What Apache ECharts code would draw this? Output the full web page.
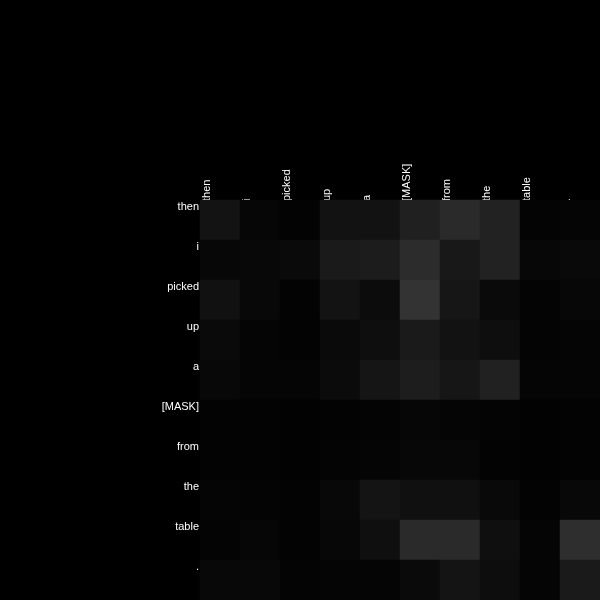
<!DOCTYPE html>
<html>
<head>
<meta charset="utf-8">
<script src="https://cdn.jsdelivr.net/npm/echarts@6/dist/echarts.min.js"></script>
<style>html,body{margin:0;padding:0;background:#000;}#c{width:600px;height:600px;}</style>
</head>
<body>
<div id="c"></div>
<script>
var tokens = ['then', 'i', 'picked', 'up', 'a', '[MASK]', 'from', 'the', 'table', '.'];
// gray intensity (0-255) per row (query token) across columns (key token)
var rowThen   = [19, 6, 3, 18, 18, 32, 42, 34, 4, 5];
var rowI      = [7, 8, 10, 26, 28, 44, 24, 34, 7, 9];
var rowPicked = [17, 8, 3, 19, 12, 51, 22, 10, 4, 7];
var rowUp     = [10, 5, 3, 10, 14, 26, 18, 14, 4, 5];
var rowA      = [8, 5, 5, 11, 21, 29, 22, 33, 5, 5];
var rowMask   = [3, 3, 2, 3, 4, 6, 5, 4, 2, 3];
var rowFrom   = [3, 3, 2, 4, 5, 7, 7, 3, 2, 3];
var rowThe    = [5, 4, 3, 8, 20, 16, 16, 9, 3, 8];
var rowTable  = [4, 6, 3, 7, 15, 42, 42, 15, 5, 46];
var rowDot    = [8, 8, 4, 5, 5, 10, 20, 13, 5, 26];
var rows = [rowThen, rowI, rowPicked, rowUp, rowA, rowMask, rowFrom, rowThe, rowTable, rowDot];

var data = [];
rows.forEach(function (r, yi) {
  r.forEach(function (v, xi) { data.push([xi, yi, v]); });
});

var chart = echarts.init(document.getElementById('c'));
chart.setOption({
  backgroundColor: '#000',
  animation: false,
  grid: { left: 200, top: 200, right: 0, bottom: 0, outerBoundsMode: 'none', containLabel: false },
  xAxis: {
    type: 'category', data: tokens, position: 'top',
    axisLine: { show: false }, axisTick: { show: false }, splitLine: { show: false },
    axisLabel: {
      rotate: -90, margin: -1, color: '#fff', fontSize: 11,
      fontFamily: 'Liberation Sans, Arial, sans-serif',
      verticalAlign: 'bottom', lineHeight: 27, interval: 0
    }
  },
  yAxis: {
    type: 'category', data: tokens, inverse: true,
    axisLine: { show: false }, axisTick: { show: false }, splitLine: { show: false },
    axisLabel: {
      margin: 1, color: '#fff', fontSize: 11,
      fontFamily: 'Liberation Sans, Arial, sans-serif',
      verticalAlign: 'bottom', lineHeight: 27, interval: 0
    }
  },
  visualMap: {
    show: false, min: 0, max: 255, dimension: 2,
    inRange: { color: ['#000000', '#ffffff'] }
  },
  series: [{
    type: 'heatmap', data: data,
    itemStyle: { borderWidth: 0 },
    emphasis: { disabled: true }
  }]
});
</script>
</body>
</html>
